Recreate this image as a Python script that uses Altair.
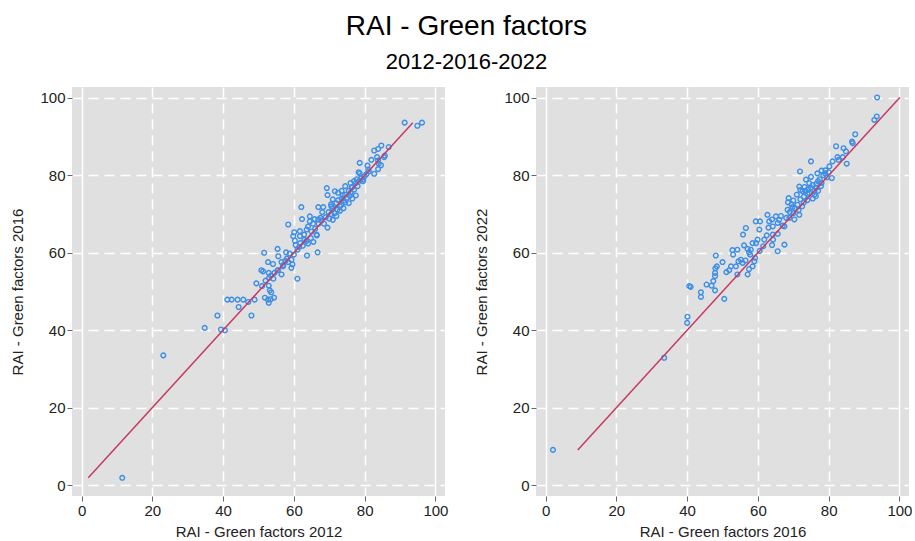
import altair as alt
import pandas as pd

# ---- Left panel: 2012 (x) vs 2016 (y) ----
gf2012 = [11.5, 23.1, 34.8, 38.4, 39.4, 40.5, 41.2, 42.4, 44.1, 45.7,
          44.4, 47.1, 48.0, 48.9, 49.4, 51.0, 51.8, 52.7, 52.9, 54.4,
          53.4, 52.9, 53.2, 53.6, 51.6, 52.7, 54.1, 50.8, 51.3, 52.9,
          53.5, 54.2, 52.0, 53.0, 54.5, 55.5, 55.6, 55.4, 57.8, 56.5,
          57.6, 58.4, 59.3, 59.6, 59.3, 56.5, 56.9, 55.4, 60.0, 61.0,
          61.5, 61.0, 63.7, 66.7, 58.4, 60.1, 59.8, 60.3, 61.7, 61.7,
          62.9, 64.0, 64.5, 64.5, 65.9, 66.9, 65.4, 63.6, 63.0, 64.0,
          66.4, 62.1, 62.3, 66.9, 68.3, 70.6, 73.3, 72.3, 62.5, 63.5,
          65.0, 66.0, 67.0, 67.8, 68.5, 69.0, 68.0, 67.5, 66.5, 64.8,
          65.5, 69.5, 70.0, 70.5, 71.0, 71.5, 72.0, 72.5, 73.0, 73.5,
          74.0, 74.5, 75.0, 75.5, 76.0, 76.5, 77.0, 77.5, 78.0, 78.5,
          79.0, 79.5, 72.0, 73.0, 74.0, 75.5, 76.5, 77.5, 71.0, 72.5,
          73.5, 74.5, 76.0, 77.0, 69.3, 69.5, 71.6, 70.5, 71.0, 69.8,
          74.5, 75.8, 78.6, 76.3, 77.8, 73.8, 78.6, 80.8, 79.6, 78.3,
          81.9, 80.0, 80.5, 81.0, 83.8, 82.7, 81.2, 84.6, 83.5, 83.8,
          85.7, 85.5, 84.0, 86.8, 84.7, 83.8, 82.7, 91.3, 94.9, 96.2,
          58.0, 58.8, 57.0, 60.5, 61.8]
gf2016_l = [1.9, 33.5, 40.6, 43.8, 40.2, 40.0, 47.9, 47.9, 47.9, 47.9,
            46.0, 47.3, 43.8, 47.9, 52.1, 51.4, 48.4, 47.9, 47.1, 48.4,
            48.0, 51.5, 50.3, 49.8, 60.0, 57.6, 57.1, 55.5, 55.2, 54.8,
            54.1, 53.3, 52.8, 53.5, 54.8, 55.5, 59.1, 61.0, 60.1, 57.6,
            57.9, 57.6, 58.2, 57.0, 56.1, 54.4, 56.5, 55.5, 59.5, 60.8,
            61.5, 53.3, 59.3, 60.1, 67.3, 65.3, 64.3, 63.1, 65.6, 64.3,
            64.7, 66.8, 68.1, 69.4, 68.7, 68.6, 67.5, 66.0, 63.4, 62.4,
            64.7, 71.8, 68.7, 71.8, 71.8, 72.0, 72.3, 71.1, 61.8, 63.0,
            65.5, 66.2, 67.5, 68.3, 67.5, 69.2, 70.5, 69.0, 64.5, 63.8,
            62.8, 66.5, 68.8, 70.0, 71.5, 70.2, 72.8, 73.6, 72.0, 74.0,
            73.5, 75.0, 74.2, 76.0, 75.5, 77.0, 76.3, 78.0, 77.2, 78.6,
            79.2, 78.5, 69.5, 70.8, 71.5, 72.8, 74.0, 74.8, 73.8, 75.5,
            76.0, 77.2, 78.0, 78.5, 76.7, 74.9, 75.9, 72.5, 68.5, 70.5,
            73.0, 74.7, 80.5, 76.8, 79.0, 74.8, 83.2, 82.5, 78.9, 80.8,
            84.0, 79.8, 80.3, 81.5, 81.6, 80.4, 81.0, 82.6, 84.7, 83.8,
            85.1, 84.7, 83.0, 87.3, 87.7, 86.8, 86.4, 93.6, 92.8, 93.6,
            58.5, 59.8, 56.8, 62.0, 62.5]

# ---- Right panel: 2016 (x) vs 2022 (y) ----
gf2016_r = [2.1, 33.5, 40.1, 40.0, 40.6, 41.0, 43.9, 43.9, 45.5, 46.9,
            47.4, 47.9, 47.9, 47.9, 48.1, 48.4, 48.0, 50.0, 50.5, 51.1,
            51.9, 52.4, 53.8, 54.2, 52.8, 53.0, 54.2, 55.2, 54.5, 55.7,
            56.5, 56.1, 57.1, 57.5, 57.8, 57.5, 57.1, 58.5, 59.0, 59.2,
            55.8, 56.6, 59.4, 60.6, 60.4, 59.9, 58.5, 59.5, 61.8, 61.5,
            60.5, 58.0, 64.3, 64.0, 65.6, 65.6, 67.5, 67.5, 64.2, 62.5,
            63.0, 65.1, 64.0, 62.7, 63.2, 64.2, 65.6, 66.0, 66.5, 67.0,
            68.0, 68.4, 68.7, 68.9, 70.3, 71.7, 71.2, 69.5, 70.0, 70.5,
            69.0, 68.5, 71.7, 72.6, 71.0, 72.0, 73.0, 73.5, 74.0, 74.5,
            75.0, 75.5, 76.4, 76.0, 76.5, 77.0, 77.5, 78.0, 78.5, 79.0,
            74.5, 73.6, 75.0, 76.8, 75.0, 71.9, 73.0, 74.0, 75.5, 76.0,
            77.0, 72.5, 71.5, 70.0, 78.0, 79.1, 80.2, 80.9, 79.5, 80.0,
            81.1, 82.5, 84.0, 82.8, 85.1, 84.9, 84.2, 82.1, 86.6, 86.8,
            87.5, 92.9, 93.6, 93.7, 72.0, 73.2, 74.2, 77.8, 76.5, 69.8]
gf2022 = [9.1, 32.9, 43.5, 41.9, 51.4, 51.2, 49.8, 48.6, 51.8, 51.5,
          52.7, 50.3, 54.0, 54.8, 59.3, 56.5, 56.0, 57.6, 48.1, 55.0,
          55.5, 56.5, 56.5, 54.4, 60.7, 59.5, 60.8, 58.2, 57.8, 57.4,
          58.0, 61.9, 61.0, 60.1, 59.5, 55.8, 54.4, 56.5, 57.8, 58.7,
          64.7, 66.4, 68.1, 68.1, 66.0, 63.4, 62.5, 62.5, 63.4, 61.7,
          60.5, 60.8, 63.4, 62.0, 60.4, 64.9, 62.1, 66.8, 64.7, 64.5,
          66.5, 69.4, 68.6, 69.8, 68.1, 66.8, 67.7, 68.5, 69.5, 67.0,
          69.0, 71.1, 74.1, 69.0, 68.6, 69.8, 72.4, 72.5, 73.5, 71.5,
          70.5, 73.0, 77.1, 75.9, 75.0, 73.8, 74.5, 76.0, 75.2, 75.4,
          76.8, 77.5, 74.6, 76.0, 77.8, 78.5, 79.0, 78.0, 80.0, 80.5,
          78.0, 78.9, 79.6, 80.5, 83.6, 81.0, 73.0, 73.6, 74.0, 75.0,
          76.0, 72.0, 71.0, 70.2, 81.2, 81.3, 82.3, 79.3, 79.5, 80.8,
          83.6, 84.7, 84.7, 84.0, 83.0, 86.2, 87.0, 87.5, 88.7, 88.3,
          90.6, 94.3, 95.2, 100.1, 76.2, 77.0, 76.5, 77.2, 76.8, 71.8]

tick_values = [0, 20, 40, 60, 80, 100]
main_title = "RAI - Green factors"
sub_title = "2012-2016-2022"
x_titles = ["RAI - Green factors 2012", "RAI - Green factors 2016"]
y_titles = ["RAI - Green factors 2016", "RAI - Green factors 2022"]

POINT_COLOR = "#3b8ee8"
LINE_COLOR = "#c73a62"
FONT = "Liberation Sans"


def panel(xs, ys, xlab, ylab):
    df = pd.DataFrame({"x": xs, "y": ys})
    lo, hi = min(ys), max(ys)
    diag = pd.DataFrame({"x": [lo, hi], "y": [lo, hi]})
    xscale = alt.Scale(domain=[-2.7, 102.7], nice=False, zero=False)
    yscale = alt.Scale(domain=[-2.8, 102.8], nice=False, zero=False)
    xgrid_dash = {"condition": {"test": "datum.value === 0 || datum.value === 100",
                                "value": []},
                  "value": [10, 6]}
    xaxis = alt.Axis(title=xlab, values=tick_values, gridDash=xgrid_dash)
    yaxis = alt.Axis(title=ylab, values=tick_values, gridDash=[10, 6])
    pts = alt.Chart(df).mark_point(
        shape="circle", filled=False, size=22, strokeWidth=1.4,
        color=POINT_COLOR, opacity=1
    ).encode(
        x=alt.X("x:Q", scale=xscale, axis=xaxis),
        y=alt.Y("y:Q", scale=yscale, axis=yaxis),
    )
    line = alt.Chart(diag).mark_line(color=LINE_COLOR, strokeWidth=1.5).encode(
        x=alt.X("x:Q", scale=xscale),
        y=alt.Y("y:Q", scale=yscale),
    )
    return alt.layer(pts, line).properties(width=373, height=409)


left = panel(gf2012, gf2016_l, x_titles[0], y_titles[0])
right = panel(gf2016_r, gf2022, x_titles[1], y_titles[1])

chart = alt.hconcat(left, right, spacing=26).properties(
    title=alt.TitleParams(
        text=main_title, subtitle=sub_title, anchor="middle",
        font=FONT, fontSize=28, fontWeight="normal", color="#000000",
        subtitleFont=FONT, subtitleFontSize=22, subtitleColor="#000000",
        subtitlePadding=11, offset=14, dx=5,
    ),
    padding={"left": 10, "top": 13, "right": 0, "bottom": 0},
    background="#ffffff",
).configure_view(
    fill="#e0e0e0", strokeWidth=0
).configure_axis(
    domain=False, tickColor="#666666", tickSize=5, tickWidth=1,
    labelFont=FONT, labelFontSize=15, labelColor="#222222", labelPadding=2,
    titleFont=FONT, titleFontSize=15, titleFontWeight="normal", titleColor="#222222",
    gridColor="#ffffff", gridWidth=1.5, gridOpacity=1,
).configure_axisY(
    titlePadding=14
).configure_axisX(
    titlePadding=6
)

chart.save("out.html", embed_options={"renderer": "svg", "actions": False})
